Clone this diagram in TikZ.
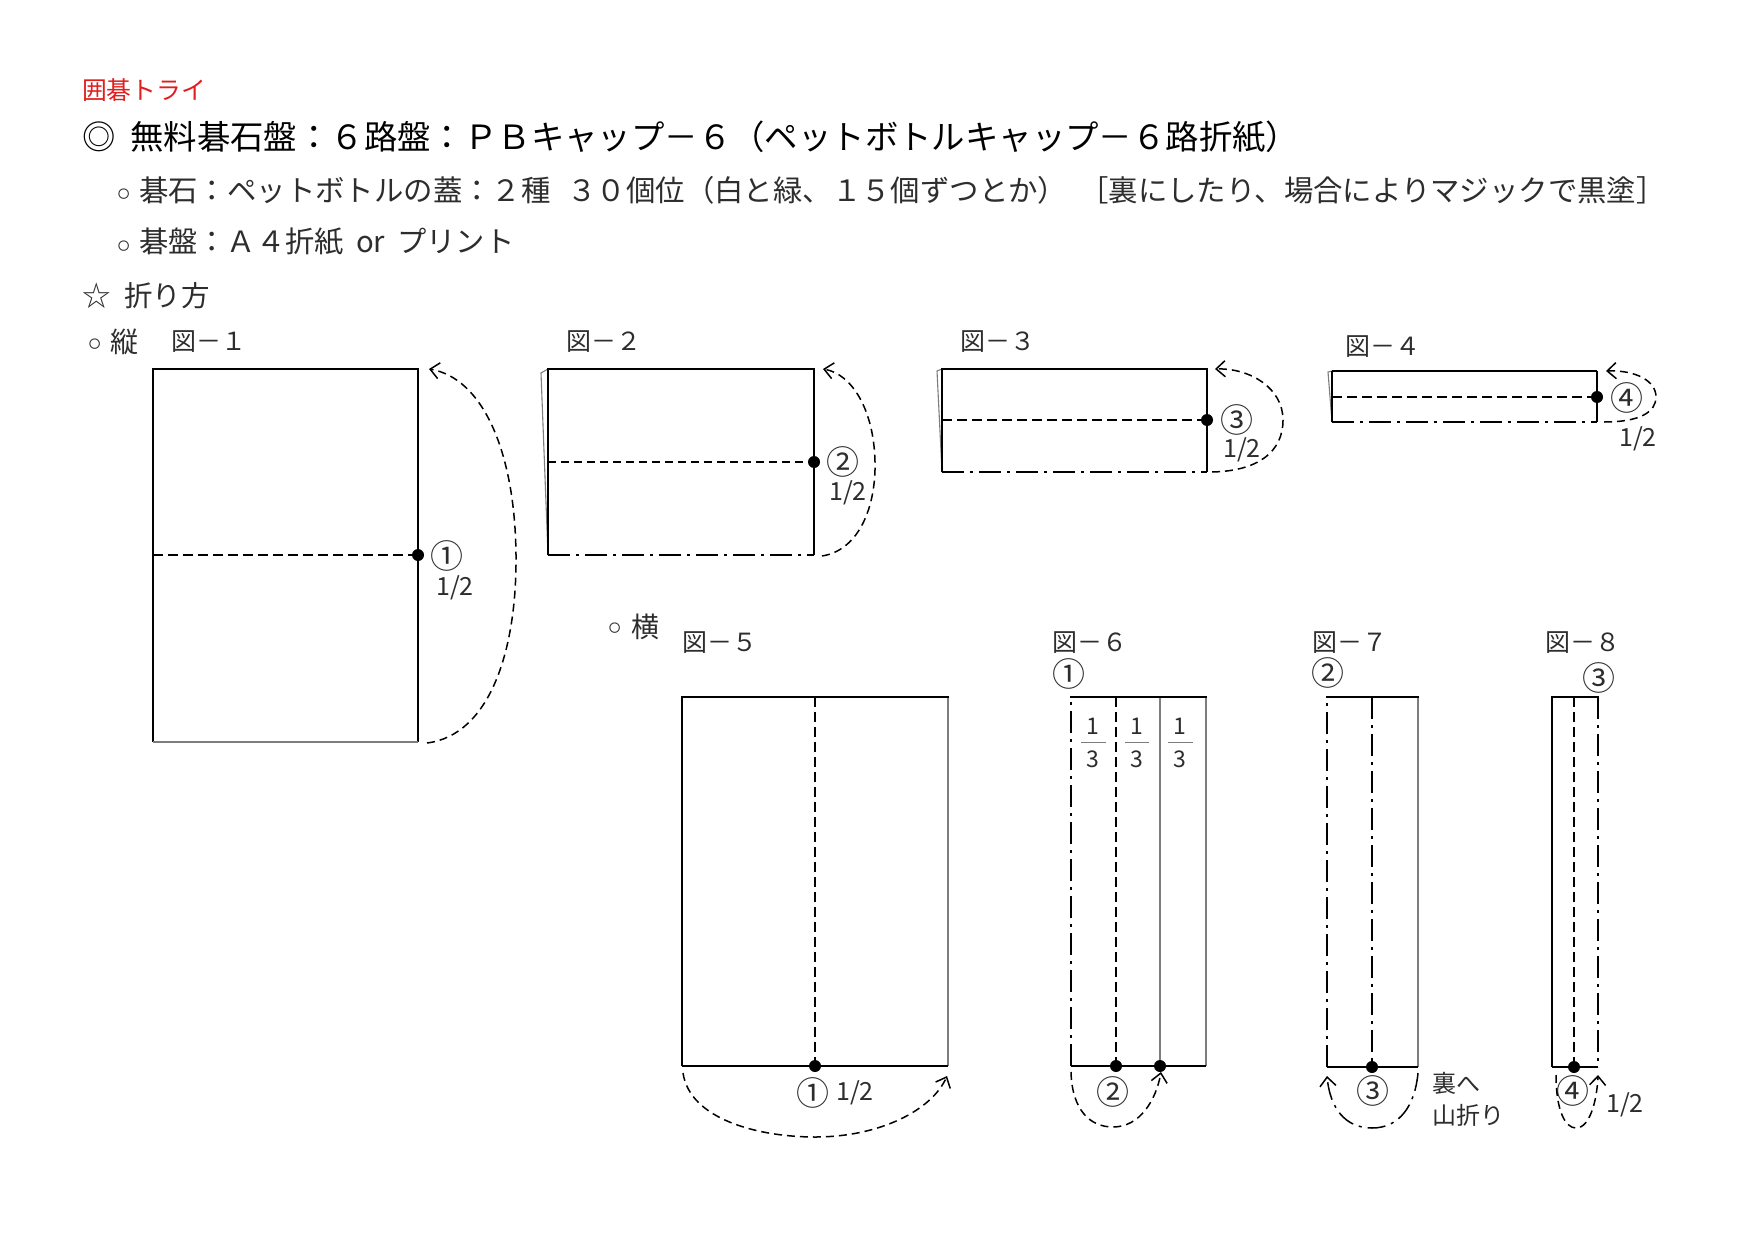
\documentclass[tikz,border=0pt]{standalone}
\usepackage{fontspec}
\setmainfont{Noto Sans CJK JP}
\newfontfamily\dejavu{DejaVu Sans}
\usetikzlibrary{arrows.meta}
\definecolor{titlered}{RGB}{225,30,30}
\definecolor{paleline}{RGB}{125,125,125}
\definecolor{txtgray}{RGB}{45,45,45}
\newcommand\fsz[1]{\fontsize{#1}{#1}\selectfont}
\tikzset{
  txt/.style={inner sep=0pt, outer sep=0pt, anchor=west, text=txtgray},
  ctxt/.style={inner sep=0pt, outer sep=0pt, text=txtgray},
  figlabel/.style={txt, font=\fsz{25pt}},
  bulletmark/.style={ctxt, font=\dejavu\fsz{36pt}},
  numlabel/.style={ctxt, font=\fsz{33pt}},
  halflabel/.style={ctxt, font=\fsz{25pt}},
  fracnum/.style={ctxt, font=\fsz{23pt}},
  thickline/.style={line width=2.4pt, line cap=rect},
  thinline/.style={line width=1.4pt},
  paleedge/.style={line width=1.1pt, draw=paleline},
  creasedash/.style={line width=2.2pt, dash pattern=on 10pt off 5pt},
  thincrease/.style={line width=1.3pt, dash pattern=on 8pt off 5pt},
  creasedashdot/.style={line width=2.2pt, dash pattern=on 22pt off 6pt on 3pt off 6pt},
  thindashdot/.style={line width=1.3pt, dash pattern=on 22pt off 6pt on 3pt off 6pt},
  foldarrow/.style={line width=1.5pt, dash pattern=on 8pt off 5pt, -{Straight Barb[length=9pt, width=16pt, line width=1.5pt]}},
  mtnarrow/.style={line width=1.5pt, dash pattern=on 18pt off 6pt on 3pt off 6pt, -{Straight Barb[length=9pt, width=16pt, line width=1.5pt]}},
  fracbar/.style={line width=1pt, draw=paleline},
  stone/.style={radius=6pt},
}
\begin{document}
\begin{tikzpicture}[x=1pt,y=-1pt]
\useasboundingbox (0,0) rectangle (1755,1241);

% ---------- heading texts ----------
\node[txt, text=titlered, font=\fsz{24.8pt}] (brand) at (82,90) {囲碁トライ};
\node[txt, text=black, font=\fsz{33.4pt}] (title) at (82,137) {◎\kern15pt 無料碁石盤：６路盤：ＰＢキャップ－６（ペットボトルキャップ－６路折紙）};
\node[bulletmark] (bul1) at (124,198) {◦};
\node[txt, font=\fsz{29.4pt}] (line1) at (139,190) {碁石：ペットボトルの蓋：２種\kern17pt ３０個位（白と緑、１５個ずつとか）\kern12pt ［裏にしたり、場合によりマジックで黒塗］};
\node[bulletmark] (bul2) at (124,250) {◦};
\node[txt, font=\fsz{29.3pt}] (line2) at (139,242) {碁盤：Ａ４折紙\kern12pt or\kern12pt プリント};
\node[txt, font=\fsz{28.5pt}] (howto) at (82,296) {☆\kern14pt 折り方};
\node[bulletmark] (bul3) at (95,348) {◦};
\node[txt, font=\fsz{28pt}] (tate) at (110,342) {縦};
\node[bulletmark] (bul4) at (615,632) {◦};
\node[txt, font=\fsz{28pt}] (yoko) at (631,627) {横};

\node[figlabel] (z1) at (171,342) {図－１};
\node[figlabel] (z2) at (566,342) {図－２};
\node[figlabel] (z3) at (960,342) {図－３};
\node[figlabel] (z4) at (1345,347) {図－４};
\node[figlabel] (z5) at (682,643) {図－５};
\node[figlabel] (z6) at (1052,643) {図－６};
\node[figlabel] (z7) at (1312,643) {図－７};
\node[figlabel] (z8) at (1545,643) {図－８};

% ---------- Fig 1 ----------
\coordinate (a1) at (153,369); \coordinate (a2) at (418,369);
\coordinate (a3) at (418,742); \coordinate (a4) at (153,742);
\coordinate (am) at (153,555); \coordinate (ad) at (418,555);
\draw[thinline] (a2) -- (a3);
\draw[thinline] (a4) -- (a1);
\draw[paleedge] (a3) -- (a4);
\draw[thickline] (a1) -- (a2);
\draw[creasedash] (am) -- (ad);
\fill (ad) circle[stone];
\node[numlabel] (n1) at (447,556) {①};
\node[halflabel] (h1) at (455,588) {1/2};
\coordinate (c1s) at (427,743); \coordinate (c1e) at (429,369);
\draw[foldarrow] (c1s) .. controls (490,735) and (517,650) .. (516,555) .. controls (515,450) and (482,378) .. (c1e);

% ---------- Fig 2 ----------
\coordinate (b1) at (548,369); \coordinate (b2) at (814,369);
\coordinate (b3) at (814,555); \coordinate (b4) at (548,555);
\coordinate (bk) at (541,373);
\coordinate (bm) at (548,462); \coordinate (bd) at (814,462);
\draw[paleedge] (b4) -- (bk) -- (b1);
\draw[thinline] (b2) -- (b3);
\draw[thinline] (b4) -- (b1);
\draw[creasedashdot] (b4) -- (b3);
\draw[thickline] (b1) -- (b2);
\draw[thincrease] (bm) -- (bd);
\fill (bd) circle[stone];
\node[numlabel] (n2) at (843,462) {②};
\node[halflabel] (h2) at (848,493) {1/2};
\coordinate (c2s) at (822,556); \coordinate (c2e) at (823,369);
\draw[foldarrow] (c2s) .. controls (860,550) and (876,505) .. (875,462) .. controls (874,410) and (852,374) .. (c2e);

% ---------- Fig 3 ----------
\coordinate (d1) at (942,369); \coordinate (d2) at (1207,369);
\coordinate (d3) at (1207,472); \coordinate (d4) at (942,472);
\coordinate (dk) at (937,371);
\coordinate (dm) at (942,420); \coordinate (dd) at (1207,420);
\draw[paleedge] (d4) -- (dk) -- (d1);
\draw[thinline] (d2) -- (d3);
\draw[thinline] (d4) -- (d1);
\draw[creasedashdot] (d4) -- (d3);
\draw[thickline] (d1) -- (d2);
\draw[creasedash] (dm) -- (dd);
\fill (dd) circle[stone];
\node[numlabel] (n3) at (1237,420) {③};
\node[halflabel] (h3) at (1242,450) {1/2};
\coordinate (c3s) at (1212,472); \coordinate (c3e) at (1215,369);
\draw[foldarrow] (c3s) .. controls (1258,471) and (1283,452) .. (1283,420) .. controls (1283,388) and (1250,368) .. (c3e);

% ---------- Fig 4 ----------
\coordinate (f1) at (1332,371); \coordinate (f2) at (1597,371);
\coordinate (f3) at (1597,422); \coordinate (f4) at (1332,422);
\coordinate (fk) at (1328,372);
\coordinate (fm) at (1332,397); \coordinate (fd) at (1597,397);
\draw[paleedge] (f4) -- (fk) -- (f1);
\draw[thinline] (f2) -- (f3);
\draw[thinline] (f4) -- (f1);
\draw[thinline] (f1) -- (f2);
\draw[creasedashdot] (f4) -- (f3);
\draw[creasedash] (fm) -- (fd);
\fill (fd) circle[stone];
\node[numlabel] (n4) at (1627,398) {④};
\node[halflabel] (h4) at (1638,439) {1/2};
\coordinate (c4s) at (1604,422); \coordinate (c4e) at (1606,371);
\draw[foldarrow] (c4s) .. controls (1640,422) and (1656,412) .. (1656,397) .. controls (1656,381) and (1636,370) .. (c4e);

% ---------- Fig 5 ----------
\coordinate (e1) at (682,697); \coordinate (e2) at (948,697);
\coordinate (e3) at (948,1066); \coordinate (e4) at (682,1066);
\coordinate (em) at (815,697); \coordinate (ed) at (815,1066);
\draw[thinline] (e4) -- (e1);
\draw[paleedge] (e2) -- (e3);
\draw[thinline] (e4) -- (e3);
\draw[thickline] (e1) -- (e2);
\draw[creasedash] (em) -- (ed);
\fill (ed) circle[stone];
\node[numlabel] (n5) at (813,1093) {①};
\node[halflabel] (h5) at (855,1093) {1/2};
\coordinate (c5s) at (683,1073); \coordinate (c5e) at (947,1076);
\draw[foldarrow] (c5s) .. controls (690,1120) and (760,1137) .. (815,1137) .. controls (880,1137) and (932,1110) .. (c5e);

% ---------- Fig 6 ----------
\coordinate (g1) at (1071,697); \coordinate (g2) at (1206,697);
\coordinate (g3) at (1206,1066); \coordinate (g4) at (1071,1066);
\coordinate (gm) at (1116,697); \coordinate (gd) at (1116,1066);
\coordinate (gt) at (1160,697); \coordinate (gb) at (1160,1066);
\draw[paleedge] (g2) -- (g3);
\draw[paleedge] (gt) -- (gb);
\draw[creasedashdot] (g4) -- (g1);
\draw[creasedash] (gm) -- (gd);
\draw[thinline] (g4) -- (g3);
\draw[thickline] (g1) -- (g2);
\fill (gd) circle[stone];
\fill (gb) circle[stone];
\node[numlabel] (n6top) at (1069,674) {①};
\node[numlabel] (n6) at (1113,1092) {②};
\node[fracnum] (fn1) at (1093,726) {1};
\node[fracnum] (fd1) at (1093,759) {3};
\draw[fracbar] (1081,742) -- (1106,742);
\node[fracnum] (fn2) at (1137,726) {1};
\node[fracnum] (fd2) at (1137,759) {3};
\draw[fracbar] (1125,742) -- (1149,742);
\node[fracnum] (fn3) at (1180,726) {1};
\node[fracnum] (fd3) at (1180,759) {3};
\draw[fracbar] (1168,742) -- (1193,742);
\coordinate (c6s) at (1071,1072); \coordinate (c6e) at (1161,1072);
\draw[foldarrow] (c6s) .. controls (1072,1110) and (1090,1127) .. (1113,1127) .. controls (1140,1127) and (1156,1100) .. (c6e);

% ---------- Fig 7 ----------
\coordinate (k1) at (1327,697); \coordinate (k2) at (1418,697);
\coordinate (k3) at (1418,1067); \coordinate (k4) at (1327,1067);
\coordinate (km) at (1372,697); \coordinate (kd) at (1372,1067);
\draw[paleedge] (k2) -- (k3);
\draw[creasedashdot] (k4) -- (k1);
\draw[thindashdot] (km) -- (kd);
\draw[thinline] (k4) -- (k3);
\draw[thickline] (k1) -- (k2);
\fill (kd) circle[stone];
\node[numlabel] (n7top) at (1328,673) {②};
\node[numlabel] (n7) at (1373,1091) {③};
\node[txt, font=\fsz{24pt}] (ura) at (1432,1083) {裏へ};
\node[txt, font=\fsz{24pt}] (yama) at (1432,1115) {山折り};
\coordinate (c7s) at (1418,1073); \coordinate (c7e) at (1327,1076);
\draw[mtnarrow] (c7s) .. controls (1415,1105) and (1400,1128) .. (1372,1128) .. controls (1345,1128) and (1330,1108) .. (c7e);

% ---------- Fig 8 ----------
\coordinate (m1) at (1552,697); \coordinate (m2) at (1598,697);
\coordinate (m3) at (1598,1067); \coordinate (m4) at (1552,1067);
\coordinate (mm) at (1574,697); \coordinate (md) at (1574,1067);
\draw[line width=2pt] (m4) -- (m1);
\draw[creasedash] (mm) -- (md);
\draw[creasedashdot] (m2) -- (m3);
\draw[thinline] (m4) -- (m3);
\draw[thickline] (m1) -- (m2);
\fill (md) circle[stone];
\node[numlabel] (n8top) at (1599,678) {③};
\node[numlabel] (n8) at (1573,1091) {④};
\node[halflabel] (h8) at (1625,1105) {1/2};
\coordinate (c8s) at (1556,1075); \coordinate (c8e) at (1598,1075);
\draw[foldarrow] (c8s) .. controls (1556,1110) and (1565,1128) .. (1576,1128) .. controls (1590,1128) and (1597,1100) .. (c8e);
\end{tikzpicture}
\end{document}
